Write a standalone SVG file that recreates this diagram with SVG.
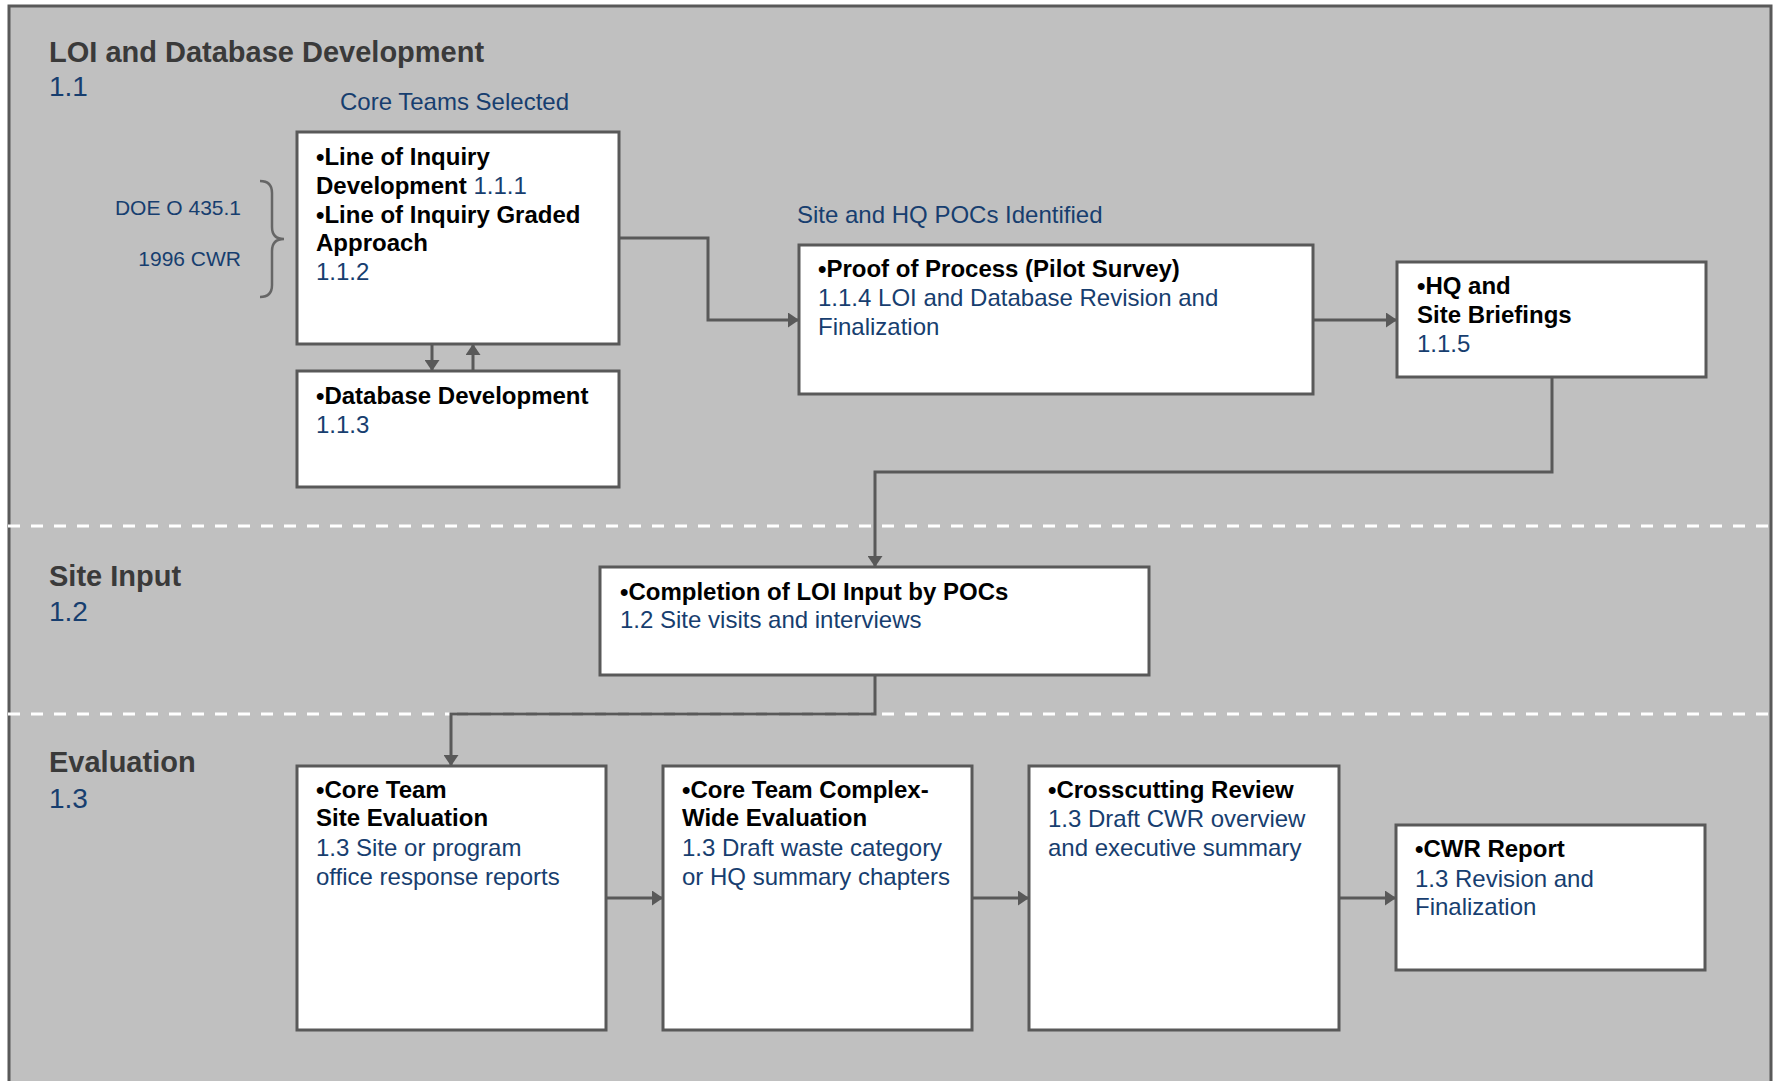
<svg xmlns="http://www.w3.org/2000/svg" width="1775" height="1081" viewBox="0 0 1775 1081">
<style>
text{font-family:"Liberation Sans",Arial,sans-serif}
.h{font-size:29px;font-weight:bold;fill:#3A3A3A}
.n{font-size:28px;fill:#173E6F}
.lbl{font-size:24px;fill:#173E6F}
.ref{font-size:21px;fill:#173E6F}
.b{font-size:24px;font-weight:bold;fill:#000}
.r{font-size:24px;fill:#173E6F}
.box{fill:#fff;stroke:#595959;stroke-width:3}
.con{fill:none;stroke:#595959;stroke-width:3}
.dash{stroke:#fff;stroke-width:3;stroke-dasharray:12 11}
</style>
<defs>
<marker id="arr" markerUnits="userSpaceOnUse" markerWidth="11" markerHeight="15" refX="11" refY="7.5" orient="auto">
<path d="M0,0 L11,7.5 L0,15 z" fill="#595959"/>
</marker>
</defs>
<rect width="1775" height="1081" fill="#fff"/>
<rect x="9" y="6" width="1762" height="1110" fill="#C0C0C0" stroke="#595959" stroke-width="3"/>
<g id="dividers">
<line class="dash" x1="8" y1="526" x2="1771" y2="526"/>
<line class="dash" x1="8" y1="714" x2="1771" y2="714"/>
</g>
<g id="lanes">
<text class="h" x="49" y="61.5">LOI and Database Development</text>
<text class="n" x="49" y="96">1.1</text>
<text class="h" x="49" y="586">Site Input</text>
<text class="n" x="49" y="620.5">1.2</text>
<text class="h" x="49" y="772">Evaluation</text>
<text class="n" x="49" y="807.5">1.3</text>
</g>
<g id="labels">
<text class="lbl" x="340" y="110">Core Teams Selected</text>
<text class="lbl" x="797" y="222.5">Site and HQ POCs Identified</text>
<text class="ref" x="241" y="215" text-anchor="end">DOE O 435.1</text>
<text class="ref" x="241" y="266" text-anchor="end">1996 CWR</text>
<path d="M260,181 Q272,181 272,193 L272,227 Q272,239 284,239 Q272,239 272,251 L272,285 Q272,297 260,297" fill="none" stroke="#666" stroke-width="2.5"/>
</g>
<g id="connectors">
<path class="con" d="M619,238 H708 V320 H799" marker-end="url(#arr)"/>
<path class="con" d="M1313,320 H1397" marker-end="url(#arr)"/>
<path class="con" d="M1552,377 V472 H875 V567" marker-end="url(#arr)"/>
<path class="con" d="M432,344 V371" marker-end="url(#arr)"/>
<path class="con" d="M473,371 V344" marker-end="url(#arr)"/>
<path class="con" d="M875,675 V714 H451 V766" marker-end="url(#arr)"/>
<path class="con" d="M606,898 H663" marker-end="url(#arr)"/>
<path class="con" d="M972,898 H1029" marker-end="url(#arr)"/>
<path class="con" d="M1339,898 H1396" marker-end="url(#arr)"/>
</g>
<g id="n111">
<rect class="box" x="297" y="132" width="322" height="212"/>
<text x="316" y="165" class="b">•Line of Inquiry</text>
<text x="316" y="193.5"><tspan class="b">Development </tspan><tspan class="r">1.1.1</tspan></text>
<text x="316" y="222.5" class="b">•Line of Inquiry Graded</text>
<text x="316" y="251" class="b">Approach</text>
<text x="316" y="279.5" class="r">1.1.2</text>
</g>
<g id="n113">
<rect class="box" x="297" y="371" width="322" height="116"/>
<text x="316" y="404" class="b">•Database Development</text>
<text x="316" y="432.5" class="r">1.1.3</text>
</g>
<g id="n114">
<rect class="box" x="799" y="245" width="514" height="149"/>
<text x="818" y="276.5" class="b">•Proof of Process (Pilot Survey)</text>
<text x="818" y="306" class="r">1.1.4 LOI and Database Revision and</text>
<text x="818" y="335" class="r">Finalization</text>
</g>
<g id="n115">
<rect class="box" x="1397" y="262" width="309" height="115"/>
<text x="1417" y="294" class="b">•HQ and</text>
<text x="1417" y="323" class="b">Site Briefings</text>
<text x="1417" y="352" class="r">1.1.5</text>
</g>
<g id="n12">
<rect class="box" x="600" y="567" width="549" height="108"/>
<text x="620" y="599.5" class="b">•Completion of LOI Input by POCs</text>
<text x="620" y="628" class="r">1.2 Site visits and interviews</text>
</g>
<g id="n13a">
<rect class="box" x="297" y="766" width="309" height="264"/>
<text x="316" y="797.5" class="b">•Core Team</text>
<text x="316" y="826" class="b">Site Evaluation</text>
<text x="316" y="856" class="r">1.3 Site or program</text>
<text x="316" y="885" class="r">office response reports</text>
</g>
<g id="n13b">
<rect class="box" x="663" y="766" width="309" height="264"/>
<text x="682" y="797.5" class="b">•Core Team Complex-</text>
<text x="682" y="826" class="b">Wide Evaluation</text>
<text x="682" y="856" class="r">1.3 Draft waste category</text>
<text x="682" y="885" class="r">or HQ summary chapters</text>
</g>
<g id="n13c">
<rect class="box" x="1029" y="766" width="310" height="264"/>
<text x="1048" y="798" class="b">•Crosscutting Review</text>
<text x="1048" y="827" class="r">1.3 Draft CWR overview</text>
<text x="1048" y="856" class="r">and executive summary</text>
</g>
<g id="n13d">
<rect class="box" x="1396" y="825" width="309" height="145"/>
<text x="1415" y="857" class="b">•CWR Report</text>
<text x="1415" y="886.5" class="r">1.3 Revision and</text>
<text x="1415" y="915" class="r">Finalization</text>
</g>
</svg>
